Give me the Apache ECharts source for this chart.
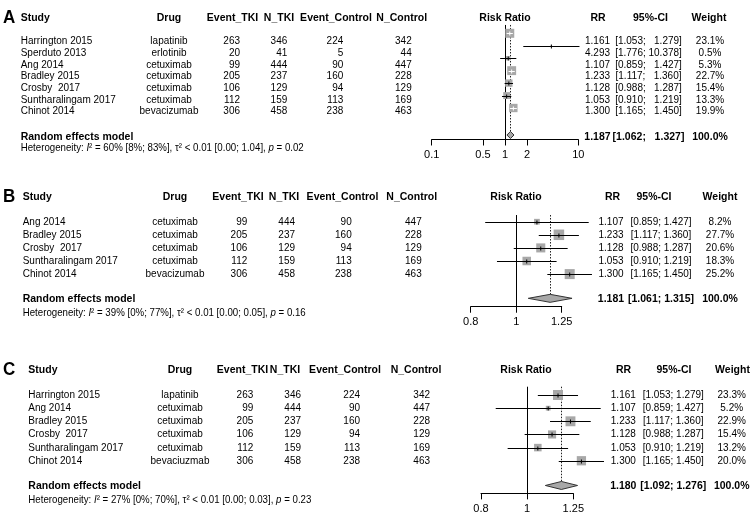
<!DOCTYPE html>
<html><head><meta charset="utf-8">
<script src="https://cdn.jsdelivr.net/npm/echarts@6/dist/echarts.min.js"></script>
<style>html,body{margin:0;padding:0;background:#fff}#c{width:755px;height:520px}</style>
</head><body><div id="c"></div>
<script>
// ---------------- DATA ----------------
const headers = ["Study","Drug","Event_TKI","N_TKI","Event_Control","N_Control","Risk Ratio","RR","95%-CI","Weight"];
const panelLetters = ["A","B","C"];
const summaryLabel = "Random effects model";

// Panel A
const studiesA  = ["Harrington 2015","Sperduto 2013","Ang 2014","Bradley 2015","Crosby  2017","Suntharalingam 2017","Chinot 2014"];
const drugsA    = ["lapatinib","erlotinib","cetuximab","cetuximab","cetuximab","cetuximab","bevacizumab"];
const eventTkiA = [263,20,99,205,106,112,306];
const nTkiA     = [346,41,444,237,129,159,458];
const eventCtlA = [224,5,90,160,94,113,238];
const nCtlA     = [342,44,447,228,129,169,463];
const rrA       = [1.161,4.293,1.107,1.233,1.128,1.053,1.300];
const lowerA    = [1.053,1.776,0.859,1.117,0.988,0.910,1.165];
const upperA    = [1.279,10.378,1.427,1.360,1.287,1.219,1.450];
const weightA   = [23.1,0.5,5.3,22.7,15.4,13.3,19.9];
const summaryA  = [1.187,1.062,1.327,100.0];
const hetA      = ["60%","[8%; 83%]","< 0.01","[0.00; 1.04]","0.02"];
const ticksA    = [0.1,0.5,1,2,10];
const tickLabelsA = ["0.1","0.5","1","2","10"];

// Panel B
const studiesB  = ["Ang 2014","Bradley 2015","Crosby  2017","Suntharalingam 2017","Chinot 2014"];
const drugsB    = ["cetuximab","cetuximab","cetuximab","cetuximab","bevacizumab"];
const eventTkiB = [99,205,106,112,306];
const nTkiB     = [444,237,129,159,458];
const eventCtlB = [90,160,94,113,238];
const nCtlB     = [447,228,129,169,463];
const rrB       = [1.107,1.233,1.128,1.053,1.300];
const lowerB    = [0.859,1.117,0.988,0.910,1.165];
const upperB    = [1.427,1.360,1.287,1.219,1.450];
const weightB   = [8.2,27.7,20.6,18.3,25.2];
const summaryB  = [1.181,1.061,1.315,100.0];
const hetB      = ["39%","[0%; 77%]","< 0.01","[0.00; 0.05]","0.16"];
const ticksB    = [0.8,1,1.25];
const tickLabelsB = ["0.8","1","1.25"];

// Panel C
const studiesC  = ["Harrington 2015","Ang 2014","Bradley 2015","Crosby  2017","Suntharalingam 2017","Chinot 2014"];
const drugsC    = ["lapatinib","cetuximab","cetuximab","cetuximab","cetuximab","bevaciuzmab"];
const eventTkiC = [263,99,205,106,112,306];
const nTkiC     = [346,444,237,129,159,458];
const eventCtlC = [224,90,160,94,113,238];
const nCtlC     = [342,447,228,129,169,463];
const rrC       = [1.161,1.107,1.233,1.128,1.053,1.300];
const lowerC    = [1.053,0.859,1.117,0.988,0.910,1.165];
const upperC    = [1.279,1.427,1.360,1.287,1.219,1.450];
const weightC   = [23.3,5.2,22.9,15.4,13.2,20.0];
const summaryC  = [1.180,1.092,1.276,100.0];
const hetC      = ["27%","[0%; 70%]","< 0.01","[0.00; 0.03]","0.23"];
const ticksC    = [0.8,1,1.25];
const tickLabelsC = ["0.8","1","1.25"];

// ---------------- LAYOUT (positions / styles) ----------------
const layoutA = {row0:33.3,rowH:12.45,headIdx:-2.0,sumIdx:8.17,hetIdx:9.16,lineTop:-0.67,axisIdx:8.53,
  forestLeft:431.7,forestRight:578.3,boxMax:9,diamondH:7,letterX:3,
  colX:[20.7,169,240,287.3,343.3,411.7,null,597.5,648.5,710],
  headX:[20.7,169,232.5,279,336,401.7,505,598,650.5,709]};
const layoutB = {row0:221.7,rowH:13.1,headIdx:-1.91,sumIdx:5.85,hetIdx:6.99,lineTop:-0.51,axisIdx:6.49,
  forestLeft:470.7,forestRight:561.7,boxMax:10.5,diamondH:8,letterX:3,
  colX:[22.7,175,247.3,295,351.7,421.7,null,611,661,720],
  headX:[22.7,175,238,284,342.5,411.7,516,612.5,654,720]};
const layoutC = {row0:395,rowH:13.15,headIdx:-1.94,sumIdx:6.88,hetIdx:8.02,lineTop:-0.63,axisIdx:7.48,
  forestLeft:481,forestRight:573.3,boxMax:10,diamondH:8,letterX:3,
  colX:[28.3,180,253.3,301,360,430,null,623.3,673.3,731.7],
  headX:[28.3,180,242.5,285,345,416,526,623.5,674,732.5]};

const FAM = '"Liberation Sans", Arial, Helvetica, sans-serif';
const BOX = '#a8a8a8';
const DIAMOND = '#a8a8a8';
const TEXT_STRETCH = 1.1;

const panels = [
  {letter:panelLetters[0],L:layoutA,studies:studiesA,drugs:drugsA,evT:eventTkiA,nT:nTkiA,evC:eventCtlA,nC:nCtlA,rr:rrA,lo:lowerA,hi:upperA,w:weightA,sum:summaryA,het:hetA,ticks:ticksA,tickLabels:tickLabelsA},
  {letter:panelLetters[1],L:layoutB,studies:studiesB,drugs:drugsB,evT:eventTkiB,nT:nTkiB,evC:eventCtlB,nC:nCtlB,rr:rrB,lo:lowerB,hi:upperB,w:weightB,sum:summaryB,het:hetB,ticks:ticksB,tickLabels:tickLabelsB},
  {letter:panelLetters[2],L:layoutC,studies:studiesC,drugs:drugsC,evT:eventTkiC,nT:nTkiC,evC:eventCtlC,nC:nCtlC,rr:rrC,lo:lowerC,hi:upperC,w:weightC,sum:summaryC,het:hetC,ticks:ticksC,tickLabels:tickLabelsC}
];

const grid = [], xAxis = [], yAxis = [], series = [];

function fmtCI(lo, hi, hiWidth) {
  let u = hi.toFixed(3);
  const pad = hiWidth - u.length;
  return "[" + lo.toFixed(3) + "; " + (pad > 0 ? "  ".repeat(pad) : "") + u + "]";
}

panels.forEach((P, k) => {
  const L = P.L;
  const py = idx => L.row0 + idx * L.rowH;
  const tg = 2 * k, fg = 2 * k + 1;
  const yMin = L.headIdx - 1.5, yMax = L.hetIdx + 1.5;

  // table grid
  grid.push({left:0, top:py(yMin), width:755, height:(yMax - yMin) * L.rowH});
  xAxis.push({type:'value', gridIndex:tg, min:0, max:755, show:false});
  yAxis.push({type:'value', gridIndex:tg, min:yMin, max:yMax, inverse:true, show:false});

  // forest grid
  const lmin = Math.log10(P.ticks[0]), lmax = Math.log10(P.ticks[P.ticks.length - 1]);
  const tickLogs = P.ticks.map(v => Math.log10(v));
  grid.push({left:L.forestLeft, width:L.forestRight - L.forestLeft, top:py(L.lineTop), height:(L.axisIdx - L.lineTop) * L.rowH});
  xAxis.push({type:'value', gridIndex:fg, min:lmin, max:lmax, position:'bottom',
    axisLine:{show:true, onZero:false, lineStyle:{color:'#000', width:1}},
    axisTick:{show:true, length:6, customValues:tickLogs, lineStyle:{color:'#000', width:1}},
    axisLabel:{show:true, customValues:tickLogs, margin:10, color:'#000', fontSize:11, fontFamily:FAM,
      formatter: v => { let best = 0; tickLogs.forEach((t, i) => { if (Math.abs(t - v) < Math.abs(tickLogs[best] - v)) best = i; }); return P.tickLabels[best]; }},
    splitLine:{show:false}});
  yAxis.push({type:'value', gridIndex:fg, min:L.lineTop, max:L.axisIdx, inverse:true, show:false});

  // ---- text items ----
  const items = [];
  const fBold = sz => 'bold ' + sz + 'px ' + FAM;
  const fNorm = sz => sz + 'px ' + FAM;
  items.push({x:L.letterX, y:L.headIdx, text:P.letter, align:'left', font:fBold(17)});
  headers.forEach((h, j) => {
    items.push({x:L.headX[j], y:L.headIdx, text:h, align: j === 0 ? 'left' : 'center', font:fBold(10.5)});
  });
  const hiWidth = Math.max(...P.hi.map(v => v.toFixed(3).length));
  P.studies.forEach((s, i) => {
    const c = L.colX, f = fNorm(10);
    items.push({x:c[0], y:i, text:s, align:'left', font:f});
    items.push({x:c[1], y:i, text:P.drugs[i], align:'center', font:f});
    items.push({x:c[2], y:i, text:String(P.evT[i]), align:'right', font:f});
    items.push({x:c[3], y:i, text:String(P.nT[i]), align:'right', font:f});
    items.push({x:c[4], y:i, text:String(P.evC[i]), align:'right', font:f});
    items.push({x:c[5], y:i, text:String(P.nC[i]), align:'right', font:f});
    items.push({x:c[7], y:i, text:P.rr[i].toFixed(3), align:'center', font:f});
    items.push({x:c[8], y:i, text:fmtCI(P.lo[i], P.hi[i], hiWidth), align:'center', font:f});
    items.push({x:c[9], y:i, text:P.w[i].toFixed(1) + '%', align:'center', font:f});
  });
  items.push({x:L.colX[0], y:L.sumIdx, text:summaryLabel, align:'left', font:fBold(10.5)});
  items.push({x:L.colX[7], y:L.sumIdx, text:P.sum[0].toFixed(3), align:'center', font:fBold(10.5)});
  items.push({x:L.colX[8], y:L.sumIdx, text:fmtCI(P.sum[1], P.sum[2], hiWidth), align:'center', font:fBold(10.5)});
  items.push({x:L.colX[9], y:L.sumIdx, text:P.sum[3].toFixed(1) + '%', align:'center', font:fBold(10.5)});
  const h = P.het;
  items.push({x:L.colX[0], y:L.hetIdx, align:'left', font:fNorm(9.7),
    text:'Heterogeneity: {i|I}\u00B2 = ' + h[0] + ' ' + h[1] + ', \u03C4\u00B2 ' + h[2] + ' ' + h[3] + ', {i|p} = ' + h[4],
    rich:{i:{font:'italic 9.7px ' + FAM}}});

  series.push({type:'custom', xAxisIndex:tg, yAxisIndex:tg, silent:true,
    data: items.map((it, i) => [it.x, it.y, i]),
    renderItem: (params, api) => {
      const it = items[params.dataIndex];
      const pt = api.coord([it.x, it.y]);
      const st = {text:it.text, x:0, y:0, align:it.align, verticalAlign:'middle', font:it.font, fill:'#000'};
      if (it.rich) st.rich = it.rich;
      return {type:'text', x:pt[0], y:pt[1], scaleY:TEXT_STRETCH, style:st};
    }});

  // ---- forest: reference line at RR = 1 ----
  series.push({type:'custom', xAxisIndex:fg, yAxisIndex:fg, silent:true, clip:false,
    data:[[0, L.lineTop, L.axisIdx]],
    renderItem: (params, api) => {
      const a = api.coord([api.value(0), api.value(1)]), b = api.coord([api.value(0), api.value(2)]);
      const x = Math.round(a[0]) + 0.5;
      return {type:'line', shape:{x1:x, y1:a[1], x2:x, y2:b[1]}, style:{stroke:'#000', lineWidth:1}};
    }});
  // ---- dotted line at summary estimate ----
  const halfD = (L.diamondH / 2) / L.rowH;
  series.push({type:'custom', xAxisIndex:fg, yAxisIndex:fg, silent:true, clip:false,
    data:[[Math.log10(P.sum[0]), L.lineTop, L.sumIdx - halfD]],
    renderItem: (params, api) => {
      const a = api.coord([api.value(0), api.value(1)]), b = api.coord([api.value(0), api.value(2)]);
      const x = Math.round(a[0]) + 0.5;
      return {type:'line', shape:{x1:x, y1:a[1], x2:x, y2:b[1]}, style:{stroke:'#222', lineWidth:1, lineDash:[1.5,1.5]}};
    }});
  // ---- study CIs and boxes ----
  const wmax = Math.max(...P.w);
  series.push({type:'custom', xAxisIndex:fg, yAxisIndex:fg, silent:true, clip:false,
    data: P.rr.map((r, i) => [Math.log10(r), i, Math.log10(P.lo[i]), Math.log10(P.hi[i]), P.w[i]]),
    renderItem: (params, api) => {
      const c = api.coord([api.value(0), api.value(1)]);
      const cl = api.coord([api.value(2), api.value(1)]);
      const ch = api.coord([api.value(3), api.value(1)]);
      const s = L.boxMax * Math.sqrt(api.value(4) / wmax);
      const inside = cl[0] >= c[0] - s / 2 && ch[0] <= c[0] + s / 2;
      const col = inside ? '#fff' : '#000';
      const y = Math.round(c[1]) + 0.5;
      return {type:'group', children:[
        {type:'rect', shape:{x:c[0] - s / 2, y:c[1] - s / 2, width:s, height:s}, style:{fill:BOX}},
        {type:'line', shape:{x1:cl[0], y1:y, x2:ch[0], y2:y}, style:{stroke:col, lineWidth:1}},
        {type:'line', shape:{x1:c[0], y1:y - 2, x2:c[0], y2:y + 2}, style:{stroke:col, lineWidth:1}}
      ]};
    }});
  // ---- summary diamond ----
  series.push({type:'custom', xAxisIndex:fg, yAxisIndex:fg, silent:true, clip:false,
    data:[[Math.log10(P.sum[0]), L.sumIdx, Math.log10(P.sum[1]), Math.log10(P.sum[2])]],
    renderItem: (params, api) => {
      const c = api.coord([api.value(0), api.value(1)]);
      const cl = api.coord([api.value(2), api.value(1)]);
      const ch = api.coord([api.value(3), api.value(1)]);
      const hh = L.diamondH / 2;
      return {type:'polygon', shape:{points:[[cl[0], c[1]], [c[0], c[1] - hh], [ch[0], c[1]], [c[0], c[1] + hh]]},
        style:{fill:DIAMOND, stroke:'#333', lineWidth:1}};
    }});
});

const chart = echarts.init(document.getElementById('c'), null, {renderer:'canvas'});
chart.setOption({animation:false, backgroundColor:'#fff', grid, xAxis, yAxis, series});
</script>
</body></html>
